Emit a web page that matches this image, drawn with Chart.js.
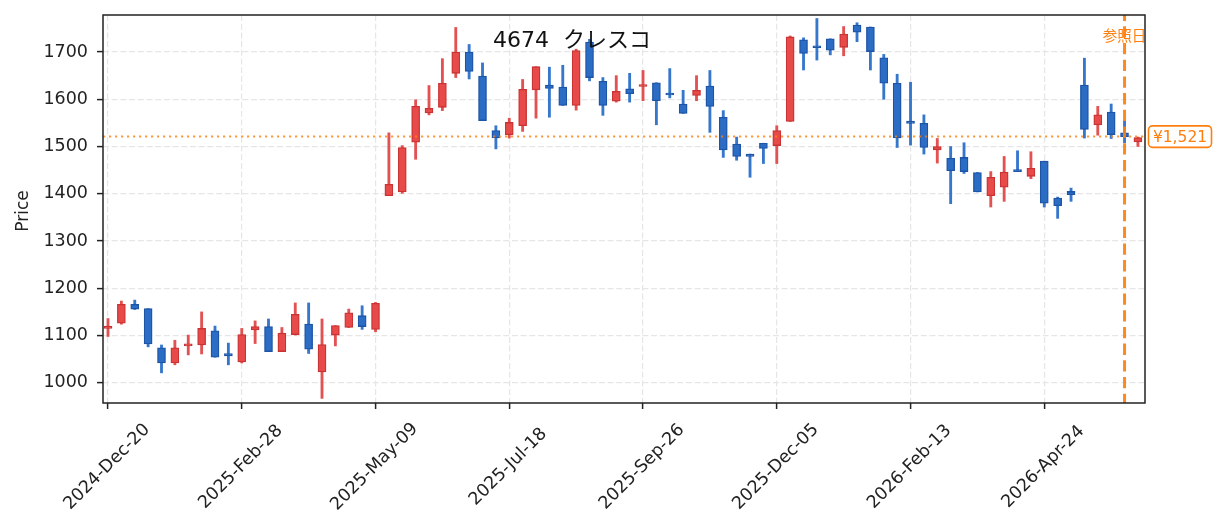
<!DOCTYPE html>
<html><head><meta charset="utf-8">
<script src="https://cdn.jsdelivr.net/npm/chart.js@4.4.1/dist/chart.umd.min.js"></script>
<style>html,body{margin:0;padding:0;background:#fff;}canvas{display:block;}</style>
</head><body>
<canvas id="c" width="1223" height="531"></canvas>
<script>
// Weekly candles, index 0 = 2024-Dec-20
const opens  = [1115,1126,1166,1157,1074,1042,1078,1080,1110,1062,1044,1112,1119,1066,1102,1124,1023,1101,1117,1142,1113,
                1396,1404,1509,1571,1583,1655,1700,1649,1534,1525,1544,1620,1630,1626,1587,1721,1638,1596,1622,1627,
                1635,1613,1590,1608,1628,1562,1505,1484,1507,1502,1553,1726,1711,1728,1710,1757,1753,1688,1634,1554,
                1549,1493,1475,1477,1445,1396,1414,1450,1437,1469,1391,1405,1630,1546,1573,1529,1510];
const highs  = [1136,1173,1175,1157,1080,1090,1101,1150,1120,1084,1115,1131,1135,1117,1169,1169,1135,1121,1156,1163,1170,
                1529,1502,1599,1629,1686,1752,1716,1677,1544,1560,1642,1669,1668,1672,1706,1727,1646,1650,1655,1661,
                1635,1665,1619,1650,1661,1576,1520,1484,1507,1544,1734,1730,1771,1728,1754,1762,1753,1695,1653,1636,
                1567,1517,1500,1508,1445,1447,1479,1491,1489,1469,1393,1412,1687,1585,1590,1554,1520];
const lows   = [1098,1124,1155,1076,1021,1038,1059,1061,1054,1038,1042,1083,1066,1066,1101,1062, 967,1078,1117,1113,1108,
                1396,1401,1473,1567,1576,1646,1643,1555,1495,1518,1532,1560,1562,1587,1577,1639,1566,1594,1594,1597,
                1546,1603,1570,1597,1530,1477,1471,1435,1464,1464,1553,1662,1683,1694,1692,1722,1662,1600,1498,1503,
                1484,1465,1379,1443,1404,1372,1384,1447,1432,1372,1348,1384,1518,1524,1517,1508,1500];
const closes = [1120,1166,1156,1082,1042,1074,1081,1115,1054,1057,1102,1119,1066,1105,1145,1071,1081,1121,1148,1119,1168,
                1420,1498,1585,1581,1634,1700,1659,1555,1518,1551,1621,1669,1623,1587,1703,1646,1587,1617,1612,1631,
                1597,1609,1570,1619,1585,1493,1479,1479,1496,1534,1732,1697,1709,1704,1738,1742,1701,1634,1518,1549,
                1498,1500,1449,1447,1404,1435,1446,1447,1454,1380,1375,1398,1536,1567,1525,1521,1519];
const tickLabels = ["2024-Dec-20","2025-Feb-28","2025-May-09","2025-Jul-18","2025-Sep-26","2025-Dec-05","2026-Feb-13","2026-Apr-24"];
const tickEvery = 10;
const yTicks = [1000,1100,1200,1300,1400,1500,1600,1700];
const refIndex = 76;
const refPrice = 1521;
const refPriceLabel = "¥1,521";
const refDateLabel = "参照日";
const titleText = "4674  クレスコ";
const yTitle = "Price";

const FONT = '"DejaVu Sans", "Noto Sans CJK JP", sans-serif';
const UP_FILL = '#e84a4a', UP_EDGE = '#c93333', UP_WICK = '#e25252';
const DN_FILL = '#2b6cc4', DN_EDGE = '#1d54a6', DN_WICK = '#3677cc';
const ORANGE = '#ff7f0e';

const isUp = closes.map((c, i) => c >= opens[i]);

const overlay = {
  id: 'overlay',
  afterDatasetsDraw(chart) {
    const {ctx, chartArea: a, scales: {x, y}} = chart;
    ctx.save();
    ctx.beginPath(); ctx.rect(a.left, a.top, a.right - a.left, a.bottom - a.top); ctx.clip();
    const py = y.getPixelForValue(refPrice);
    ctx.strokeStyle = 'rgba(255,127,14,0.8)'; ctx.lineWidth = 2; ctx.setLineDash([2.2, 3.8]);
    ctx.beginPath(); ctx.moveTo(a.left, py); ctx.lineTo(a.right, py); ctx.stroke();
    const px = x.getPixelForValue(refIndex);
    ctx.strokeStyle = 'rgba(255,127,14,0.92)'; ctx.lineWidth = 3; ctx.setLineDash([11.3, 5.4]); ctx.lineDashOffset = 5.4;
    ctx.beginPath(); ctx.moveTo(px, a.top); ctx.lineTo(px, a.bottom); ctx.stroke();
    ctx.restore();

    // frame
    ctx.save();
    ctx.strokeStyle = '#222'; ctx.lineWidth = 1.5; ctx.setLineDash([]);
    ctx.strokeRect(a.left, a.top, a.right - a.left, a.bottom - a.top);
    ctx.restore();

    // x tick labels (rotated 45, centered on tick)
    ctx.save();
    ctx.fillStyle = '#222'; ctx.font = '17.5px ' + FONT;
    ctx.textAlign = 'center'; ctx.textBaseline = 'middle';
    x.ticks.forEach(t => {
      const lab = tickLabels[Math.round(t.value / tickEvery)];
      if (lab === undefined) return;
      const tx = x.getPixelForValue(t.value);
      ctx.save(); ctx.translate(tx - 1, 467); ctx.rotate(-Math.PI / 4);
      ctx.fillText(lab, 0, 0); ctx.restore();
    });
    ctx.restore();

    // y axis title
    ctx.save();
    ctx.fillStyle = '#222'; ctx.font = '17px ' + FONT;
    ctx.textAlign = 'center'; ctx.textBaseline = 'middle';
    ctx.translate(24, (a.top + a.bottom) / 2 + 2); ctx.rotate(-Math.PI / 2);
    ctx.fillText(yTitle, 0, 0);
    ctx.restore();

    // title
    ctx.save();
    ctx.fillStyle = '#111'; ctx.font = '22px ' + FONT;
    ctx.textAlign = 'center'; ctx.textBaseline = 'alphabetic';
    ctx.fillText(titleText, 572, 47.3);
    ctx.restore();

    // reference date label
    ctx.save();
    ctx.fillStyle = ORANGE; ctx.font = '14.5px "Noto Sans CJK JP", sans-serif';
    ctx.textAlign = 'center'; ctx.textBaseline = 'middle';
    ctx.fillText(refDateLabel, px, 35);
    ctx.restore();

    // price box
    ctx.save();
    const bx = 1148.5, bw = 63, bh = 21.5, by = py - bh / 2;
    ctx.fillStyle = '#fff'; ctx.strokeStyle = ORANGE; ctx.lineWidth = 1.6;
    ctx.beginPath(); ctx.roundRect(bx, by, bw, bh, 4); ctx.fill(); ctx.stroke();
    ctx.fillStyle = ORANGE; ctx.font = '15.5px ' + FONT;
    ctx.textAlign = 'center'; ctx.textBaseline = 'middle';
    ctx.fillText(refPriceLabel, bx + bw / 2, py + 1);
    ctx.restore();
  }
};

const gridCommon = {color: '#e6e6e6', lineWidth: 1.2, offset: false, drawTicks: true, tickLength: 6,
                    tickColor: '#222', tickWidth: 1.5, tickBorderDash: []};

new Chart(document.getElementById('c'), {
  type: 'bar',
  data: {
    datasets: [
      {
        label: 'body',
        data: opens.map((o, i) => ({x: i, y: [o, closes[i]]})),
        backgroundColor: isUp.map(u => u ? UP_FILL : DN_FILL),
        borderColor: isUp.map(u => u ? UP_EDGE : DN_EDGE),
        borderWidth: 1.3, borderSkipped: false, barThickness: 8, minBarLength: 2,
        grouped: false, order: 0
      },
      {
        label: 'wick',
        data: lows.map((l, i) => ({x: i, y: [l, highs[i]]})),
        backgroundColor: isUp.map(u => u ? UP_WICK : DN_WICK),
        borderWidth: 0, barThickness: 2.2, grouped: false, order: 1
      }
    ]
  },
  options: {
    responsive: false, animation: false,
    layout: {padding: {left: 0, right: 78, top: 15, bottom: 0}},
    plugins: {legend: {display: false}, tooltip: {enabled: false}},
    scales: {
      x: {
        type: 'linear', min: -0.374, max: 77.53, offset: false, bounds: 'data',
        grid: gridCommon, border: {display: false, dash: [6, 2.7]},
        ticks: {display: false, autoSkip: false},
        afterBuildTicks: s => { s.ticks = tickLabels.map((_, k) => ({value: k * tickEvery})); },
        afterFit: s => { s.height = 128; s.paddingLeft = 0; s.paddingRight = 0; s.paddingTop = 0; s.paddingBottom = 0; }
      },
      y: {
        type: 'linear', min: 957.2, max: 1778.4, bounds: 'data',
        grid: gridCommon, border: {display: false, dash: [6, 2.7]},
        ticks: {padding: 9, color: '#222', autoSkip: false, callback: v => String(v),
                font: {family: FONT, size: 17.5}},
        afterBuildTicks: s => { s.ticks = yTicks.map(v => ({value: v})); },
        afterFit: s => { s.width = 103; s.paddingTop = 0; s.paddingBottom = 0; s.paddingLeft = 0; s.paddingRight = 0; }
      }
    }
  },
  plugins: [overlay]
});
</script>
</body></html>
